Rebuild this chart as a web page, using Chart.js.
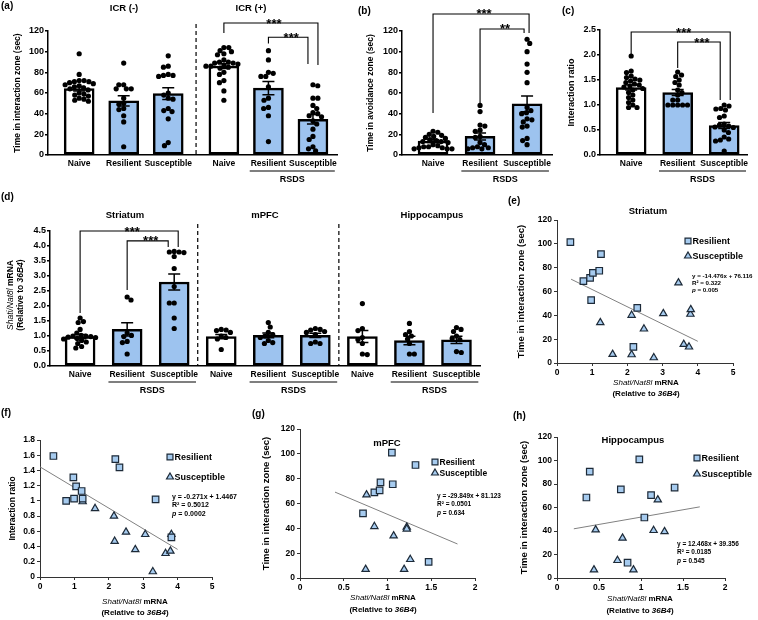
<!DOCTYPE html>
<html>
<head>
<meta charset="utf-8">
<title>Shati/Nat8l and RSDS</title>
<script src="https://cdn.jsdelivr.net/npm/chart.js@4.4.1/dist/chart.umd.min.js"></script>
<style>
  html, body { margin: 0; padding: 0; background: #fff; }
  #fig { position: relative; width: 758px; height: 620px; overflow: hidden; background: #fff; }
  #fig canvas { position: absolute; }
  .tag { position: absolute; font: bold 10px 'Liberation Sans', Arial, sans-serif; line-height: 10px; color: #000; }
</style>
</head>
<body>
<div id="fig">
  <canvas id="pa" width="345" height="195" style="left:0px;top:0px"></canvas>
  <canvas id="pb" width="215" height="195" style="left:350px;top:0px"></canvas>
  <canvas id="pc" width="203" height="195" style="left:555px;top:0px"></canvas>
  <canvas id="pd" width="490" height="200" style="left:0px;top:200px"></canvas>
  <canvas id="pe" width="268" height="210" style="left:490px;top:195px"></canvas>
  <canvas id="pf" width="250" height="220" style="left:0px;top:400px"></canvas>
  <canvas id="pg" width="262" height="220" style="left:250px;top:400px"></canvas>
  <canvas id="ph" width="258" height="220" style="left:500px;top:400px"></canvas>
  <div class="tag" style="left:1px;top:1px">(a)</div>
  <div class="tag" style="left:358px;top:6px">(b)</div>
  <div class="tag" style="left:562px;top:6px">(c)</div>
  <div class="tag" style="left:1px;top:192px">(d)</div>
  <div class="tag" style="left:508px;top:196px">(e)</div>
  <div class="tag" style="left:1px;top:408px">(f)</div>
  <div class="tag" style="left:252px;top:409px">(g)</div>
  <div class="tag" style="left:513px;top:411px">(h)</div>
</div>
<script>
const FONT = "'Liberation Sans', Arial, sans-serif";
const BAR_BLUE = '#9dc3ef';
const MARK_BLUE = '#a6cbef';
const MARK_EDGE = '#1d2a38';
Chart.defaults.font.family = FONT;

// ---- data ----
const groupNames = ['Naive', 'Resilient', 'Susceptible'];

// (a) time in interaction zone, ICR(-) then ICR(+)
const aLabels = groupNames.concat(groupNames);
const aMeans = [64.2, 52.4, 59.4, 86.0, 64.7, 34.6];
const aSem = [2.2, 5.0, 5.6, 2.3, 6.4, 4.6];
const aNaiveNeg = [98, 78, 72, 72, 71, 71, 70, 69, 68, 67, 66, 65, 64, 63, 60, 59, 58, 57, 55, 54, 53, 52];
const aResNeg = [89, 68, 68, 64, 64, 64, 55, 50, 49, 45, 44, 38, 32, 8];
const aSusNeg = [96, 86, 85, 78, 77, 77, 76, 60, 58, 55, 54, 45, 43, 42, 35, 12, 9];
const aNaivePos = [104, 104, 101, 100, 98, 97, 92, 90, 90, 89, 89, 88, 87, 86, 86, 85, 84, 80, 78, 72, 70, 62, 53];
const aResPos = [101, 92, 80, 79, 76, 76, 66, 55, 53, 46, 45, 38, 13];
const aSusPos = [68, 67, 55, 55, 48, 45, 41, 40, 38, 37, 33, 30, 25, 18, 15, 8, 6, 4];

// (b) time in avoidance zone
const bMeans = [13.5, 18.0, 49.5];
const bSem = [1.3, 3.4, 7.6];
const bNaive = [23, 22, 20, 19, 18, 17, 16, 15, 14, 13, 13, 12, 10, 9, 8, 8, 7, 7, 6, 6, 6];
const bRes = [48, 42, 29, 28, 24, 23, 18, 17, 12, 10, 8, 7, 7, 6, 6];
const bSus = [112, 108, 100, 88, 80, 70, 46, 43, 41, 40, 35, 34, 32, 28, 27, 16, 14, 10];

// (c) interaction ratio
const cMeans = [1.35, 1.25, 0.59];
const cSem = [0.05, 0.06, 0.06];
const cNaive = [1.98, 1.68, 1.65, 1.58, 1.55, 1.52, 1.5, 1.48, 1.45, 1.42, 1.4, 1.38, 1.36, 1.33, 1.3, 1.25, 1.2, 1.15, 1.1, 1.05, 1.0, 0.95, 0.95];
const cRes = [1.66, 1.6, 1.57, 1.5, 1.45, 1.4, 1.3, 1.25, 1.2, 1.1, 1.1, 1.0, 1.0, 1.0, 1.0, 1.0];
const cSus = [1.0, 0.98, 0.93, 0.92, 0.9, 0.78, 0.75, 0.62, 0.6, 0.58, 0.56, 0.55, 0.5, 0.45, 0.36, 0.32, 0.3, 0.28, 0.08];

// (d) Shati/Nat8l mRNA in striatum, mPFC, hippocampus
const dLabels = groupNames.concat(groupNames, groupNames);
const dMeans = [0.98, 1.22, 2.80, 0.98, 1.02, 1.02, 0.98, 0.85, 0.87];
const dSem = [0.07, 0.22, 0.27, 0.07, 0.08, 0.07, 0.20, 0.14, 0.12];
const dStrNaive = [1.6, 1.48, 1.45, 1.22, 1.1, 1.02, 1.0, 1.0, 0.98, 0.96, 0.95, 0.92, 0.9, 0.85, 0.8, 0.75, 0.65, 0.6];
const dStrRes = [2.3, 2.2, 1.1, 1.02, 0.98, 0.82, 0.78, 0.4];
const dStrSus = [3.82, 3.8, 3.8, 3.78, 3.65, 3.25, 2.65, 2.1, 2.1, 1.6, 1.25];
const dPfcNaive = [1.22, 1.2, 1.18, 1.12, 1.0, 0.95, 0.9, 0.55];
const dPfcRes = [1.45, 1.3, 1.12, 1.05, 1.0, 0.95, 0.85, 0.78, 0.75];
const dPfcSus = [1.25, 1.22, 1.2, 1.15, 1.12, 1.05, 0.8, 0.75, 0.75];
const dHipNaive = [2.08, 1.25, 1.18, 0.95, 0.88, 0.75, 0.4, 0.38];
const dHipRes = [1.42, 1.15, 1.05, 1.0, 0.9, 0.75, 0.4, 0.4];
const dHipSus = [1.28, 1.22, 1.15, 1.0, 0.92, 0.88, 0.48, 0.45];

// (e)-(h) correlations: [mRNA, behaviour]
const eRes = [[0.38, 101.5], [0.75, 68.7], [0.94, 71.5], [1.02, 75.7], [1.2, 77.4], [1.25, 91.4], [0.97, 52.7], [2.28, 46.3], [2.17, 13.5]];
const eSus = [[1.23, 33.9], [1.58, 7.3], [2.12, 40.1], [2.12, 7.0], [2.47, 28.6], [2.75, 4.5], [3.02, 41.5], [3.45, 67.3], [3.6, 15.7], [3.75, 13.5], [3.79, 41.0], [3.8, 44.8]];
const eFit = [-14.476, 76.116];
const eEq = ['y = -14.476x + 76.116', 'R\u00b2 = 0.322', '0.005'];

const fRes = [[0.39, 1.59], [0.76, 1.0], [0.97, 1.31], [0.99, 1.03], [1.05, 1.19], [1.21, 1.13], [1.24, 1.03], [2.19, 1.55], [2.31, 1.44], [3.36, 1.02], [3.82, 0.52]];
const fSus = [[1.24, 0.99], [1.6, 0.9], [2.15, 0.8], [2.17, 0.47], [2.5, 0.59], [2.77, 0.36], [3.06, 0.56], [3.28, 0.07], [3.65, 0.31], [3.79, 0.34], [3.82, 0.56]];
const fFit = [-0.271, 1.4467];
const fEq = ['y = -0.271x + 1.4467', 'R\u00b2 = 0.5012', '0.0002'];

const gRes = [[0.72, 52], [0.85, 69], [0.91, 70.5], [0.92, 77], [1.05, 101], [1.06, 75.5], [1.32, 91], [1.47, 13]];
const gSus = [[0.76, 67], [0.75, 7], [0.85, 41.5], [1.07, 34], [1.22, 41], [1.22, 39.5], [1.19, 7], [1.26, 15]];
const gFit = [-29.849, 81.123];
const gEq = ['y = -29.849x + 81.123', 'R\u00b2 = 0.0501', '0.634'];

const hRes = [[0.35, 68.5], [0.39, 90.5], [0.76, 75.5], [0.84, 13], [0.98, 101], [1.04, 51.5], [1.12, 70.5], [1.4, 77]];
const hSus = [[0.44, 7], [0.46, 41], [0.72, 15], [0.78, 34], [0.91, 7], [1.15, 40.5], [1.2, 66.5], [1.28, 39.5]];
const hFit = [12.468, 39.356];
const hEq = ['y = 12.468x + 39.356', 'R\u00b2 = 0.0185', '0.545'];

// ---- helpers ----
function fontStr(size, bold, italic) {
  return (italic ? 'italic ' : '') + (bold ? 'bold ' : '') + size + 'px ' + FONT;
}

// parts: [text, italic, bold]
function richText(ctx, parts, x, y, size, align) {
  const widths = parts.map(p => { ctx.font = fontStr(size, p[2] !== false, p[1]); return ctx.measureText(p[0]).width; });
  const total = widths.reduce((s, w) => s + w, 0);
  let cx = align === 'left' ? x : x - total / 2;
  ctx.textAlign = 'left';
  ctx.textBaseline = 'middle';
  ctx.fillStyle = '#000';
  parts.forEach((p, i) => { ctx.font = fontStr(size, p[2] !== false, p[1]); ctx.fillText(p[0], cx, y); cx += widths[i]; });
}

const geneLine = [['Shati/Nat8l', true, false], [' mRNA', false]];
const refLine = [['(Relative to ', false], ['36B4', true], [')', false]];

// simple beeswarm: each dot goes as close to the centre as it can
function swarm(ys, cx, r) {
  const d = 2 * r - 0.3;
  const placed = [];
  let flip = 1;
  ys.slice().sort((a, b) => a - b).forEach(y => {
    const near = placed.filter(p => Math.abs(p.y - y) < d);
    const cands = [cx];
    near.forEach(p => { const dx = Math.sqrt(d * d - (p.y - y) * (p.y - y)); cands.push(p.x - dx, p.x + dx); });
    cands.sort((a, b) => (Math.abs(a - cx) - Math.abs(b - cx)) || flip * (a - b));
    flip = -flip;
    const x = cands.find(c => near.every(p => (p.x - c) * (p.x - c) + (p.y - y) * (p.y - y) >= d * d - 0.01));
    placed.push({ x: x, y: y });
  });
  return placed;
}

function drawMarker(ctx, style, x, y, r) {
  ctx.beginPath();
  if (style === 'rect') {
    const s = r * Math.SQRT1_2;
    ctx.rect(x - s, y - s, 2 * s, 2 * s);
  } else {
    for (let k = 0; k < 3; k++) {
      const a = k * 2 * Math.PI / 3;
      const px = x + Math.sin(a) * r, py = y - Math.cos(a) * r;
      if (k) ctx.lineTo(px, py); else ctx.moveTo(px, py);
    }
    ctx.closePath();
  }
  ctx.fillStyle = MARK_BLUE;
  ctx.fill();
  ctx.lineWidth = 1.2;
  ctx.strokeStyle = MARK_EDGE;
  ctx.stroke();
}

// ---- bar + dot panels ----
function barPanel(o) {
  const [L, T, W, H] = o.box;
  const [x1, y1, x2, y2] = o.area;
  const pos = [];
  let k = 0;
  o.groups.forEach((n, gi) => { for (let i = 0; i < n; i++) pos.push(k++ + gi * o.gap); });
  const fills = o.labels.map(l => l === 'Naive' ? '#ffffff' : BAR_BLUE);
  const tickFont = { family: FONT, size: 8.5, weight: 'bold' };

  const extras = {
    id: 'extras',
    afterDatasetsDraw(chart) {
      const { ctx, chartArea: ca, scales: { x, y } } = chart;
      ctx.save();
      // dots
      ctx.fillStyle = '#000';
      o.points.forEach((vals, i) => {
        const cx = x.getPixelForValue(pos[i]);
        swarm(vals.map(v => y.getPixelForValue(v)), cx, 2.6).forEach(p => {
          ctx.beginPath(); ctx.arc(p.x, p.y, 2.6, 0, Math.PI * 2); ctx.fill();
        });
      });
      // mean +/- SEM
      ctx.strokeStyle = '#000';
      ctx.lineWidth = 1.5;
      o.means.forEach((m, i) => {
        const cx = x.getPixelForValue(pos[i]);
        const top = y.getPixelForValue(m + o.sem[i]), bot = y.getPixelForValue(m - o.sem[i]);
        ctx.beginPath();
        ctx.moveTo(cx, top); ctx.lineTo(cx, bot);
        ctx.moveTo(cx - 6, top); ctx.lineTo(cx + 6, top);
        ctx.moveTo(cx - 6, bot); ctx.lineTo(cx + 6, bot);
        ctx.stroke();
      });
      // dashed separators between groups
      ctx.lineWidth = 1.2;
      ctx.setLineDash([4, 3]);
      let start = 0;
      o.groups.slice(0, -1).forEach(n => {
        start += n;
        const sx = x.getPixelForValue((pos[start - 1] + pos[start]) / 2);
        ctx.beginPath(); ctx.moveTo(sx, ca.top - 7); ctx.lineTo(sx, ca.bottom); ctx.stroke();
      });
      ctx.setLineDash([]);
      // significance brackets
      ctx.lineWidth = 1.1;
      o.brackets.forEach(b => {
        const xl = x.getPixelForValue(pos[b.i]);
        const xr = x.getPixelForValue(pos[b.j]) + b.dj;
        const yy = y.getPixelForValue(b.y);
        ctx.beginPath();
        ctx.moveTo(xl, y.getPixelForValue(b.yl));
        ctx.lineTo(xl, yy); ctx.lineTo(xr, yy);
        ctx.lineTo(xr, y.getPixelForValue(b.yr));
        ctx.stroke();
        ctx.font = fontStr(13, true);
        ctx.textAlign = 'center';
        ctx.textBaseline = 'alphabetic';
        ctx.fillStyle = '#000';
        ctx.fillText(b.t, (xl + xr) / 2 + 3, yy + 4.5);
      });
      // RSDS underline and label
      ctx.font = fontStr(8.5, true);
      const wr = ctx.measureText('Resilient').width, ws = ctx.measureText('Susceptible').width;
      let g0 = 0;
      const starts = o.groups.map(n => { const s = g0; g0 += n; return s; });
      o.rsds.forEach(gi => {
        const a = x.getPixelForValue(pos[starts[gi] + 1]) - wr / 2 - 1;
        const b = x.getPixelForValue(pos[starts[gi] + 2]) + ws / 2 - 2;
        ctx.lineWidth = 1.2;
        ctx.beginPath(); ctx.moveTo(a, ca.bottom + 16); ctx.lineTo(b, ca.bottom + 16); ctx.stroke();
        ctx.font = fontStr(9, true);
        ctx.textAlign = 'center';
        ctx.textBaseline = 'middle';
        ctx.fillText('RSDS', (a + b) / 2, ca.bottom + 25);
      });
      // group titles
      o.titles.forEach(t => {
        ctx.font = fontStr(9.5, true);
        ctx.textAlign = 'center';
        ctx.textBaseline = 'middle';
        ctx.fillText(t.t, t.x - L, t.y - T);
      });
      // two-line rotated title
      if (o.richTitle) {
        const r = o.richTitle;
        [geneLine, refLine].forEach((parts, li) => {
          ctx.save();
          ctx.translate(r.x[li] - L, r.y - T);
          ctx.rotate(-Math.PI / 2);
          richText(ctx, parts, 0, 0, 8.5);
          ctx.restore();
        });
      }
      ctx.restore();
    }
  };

  return new Chart(document.getElementById(o.id), {
    type: 'bar',
    data: {
      datasets: [{
        data: pos.map((p, i) => ({ x: p, y: o.means[i] })),
        backgroundColor: fills,
        borderColor: '#000',
        borderWidth: 2.5,
        borderSkipped: false,
        barThickness: 30
      }]
    },
    options: {
      responsive: false,
      animation: false,
      events: [],
      layout: { padding: { top: y1 - T, right: L + W - x2, left: 0, bottom: 0 } },
      plugins: { legend: { display: false }, tooltip: { enabled: false } },
      scales: {
        x: {
          type: 'linear',
          offset: false,
          min: o.xMin,
          max: pos[pos.length - 1] + o.xPad,
          afterBuildTicks: s => { s.ticks = pos.map(v => ({ value: v })); },
          afterFit: s => { s.height = T + H - y2; },
          grid: { display: false, drawTicks: false },
          border: { display: true, color: '#000', width: 1.5 },
          ticks: { autoSkip: false, maxRotation: 0, padding: 4, color: '#000', font: tickFont,
                   callback: (v, i) => o.labels[i] }
        },
        y: {
          min: 0,
          max: o.yMax,
          afterFit: s => { s.width = x1 - L; },
          ticks: { stepSize: o.yStep, padding: 1, color: '#000', font: { family: FONT, size: 9, weight: 'bold' },
                   callback: v => v.toFixed(o.dec) },
          grid: { drawOnChartArea: false, drawTicks: true, tickLength: 3, color: '#000', lineWidth: 1.5 },
          border: { color: '#000', width: 1.5 },
          title: { display: !!o.yTitle, text: o.yTitle || '', color: '#000',
                   font: { family: FONT, size: o.yTitleSize || 8.5, weight: 'bold' },
                   padding: { top: o.yTitlePad || 0, bottom: 0 } }
        }
      }
    },
    plugins: [extras]
  });
}

barPanel({
  id: 'pa', box: [0, 0, 345, 195], area: [48, 31, 337, 155],
  groups: [3, 3], gap: 0.25, xMin: -0.7, xPad: 0.54,
  labels: aLabels, means: aMeans, sem: aSem,
  points: [aNaiveNeg, aResNeg, aSusNeg, aNaivePos, aResPos, aSusPos],
  yMax: 120, yStep: 20, dec: 0,
  yTitle: 'Time in interaction zone (sec)', yTitleSize: 8.5, yTitlePad: 13,
  brackets: [
    { i: 3, j: 5, y: 127.7, yl: 118, yr: 87, dj: 5, t: '***' },
    { i: 4, j: 5, y: 114, yl: 108, yr: 88, dj: -5, t: '***' }
  ],
  rsds: [1],
  titles: [{ t: 'ICR (-)', x: 124, y: 8 }, { t: 'ICR (+)', x: 251, y: 8 }]
});

barPanel({
  id: 'pb', box: [350, 0, 215, 195], area: [402, 31, 552, 155],
  groups: [3], gap: 0, xMin: -0.66, xPad: 0.53,
  labels: groupNames, means: bMeans, sem: bSem,
  points: [bNaive, bRes, bSus],
  yMax: 120, yStep: 20, dec: 0,
  yTitle: 'Time in avoidance zone (sec)', yTitleSize: 8.5, yTitlePad: 16,
  brackets: [
    { i: 0, j: 2, y: 136.5, yl: 40.6, yr: 118, dj: 2, t: '***' },
    { i: 1, j: 2, y: 122, yl: 50.3, yr: 118, dj: -3, t: '**' }
  ],
  rsds: [0],
  titles: []
});

barPanel({
  id: 'pc', box: [555, 0, 203, 195], area: [600, 30, 747, 155],
  groups: [3], gap: 0, xMin: -0.67, xPad: 0.49,
  labels: groupNames, means: cMeans, sem: cSem,
  points: [cNaive, cRes, cSus],
  yMax: 2.5, yStep: 0.5, dec: 1,
  yTitle: 'Interaction ratio', yTitleSize: 9, yTitlePad: 11.5,
  brackets: [
    { i: 0, j: 2, y: 2.46, yl: 2.0, yr: 1.1, dj: 6, t: '***' },
    { i: 1, j: 2, y: 2.26, yl: 1.74, yr: 1.1, dj: -4, t: '***' }
  ],
  rsds: [0],
  titles: []
});

barPanel({
  id: 'pd', box: [0, 200, 490, 200], area: [50, 231, 480, 366],
  groups: [3, 3, 3], gap: 0, xMin: -0.64, xPad: 0.5,
  labels: dLabels, means: dMeans, sem: dSem,
  points: [dStrNaive, dStrRes, dStrSus, dPfcNaive, dPfcRes, dPfcSus, dHipNaive, dHipRes, dHipSus],
  yMax: 4.5, yStep: 0.5, dec: 1,
  richTitle: { x: [11, 21], y: 295 },
  brackets: [
    { i: 0, j: 2, y: 4.5, yl: 1.77, yr: 3.97, dj: 4, t: '***' },
    { i: 1, j: 2, y: 4.17, yl: 2.53, yr: 3.97, dj: -6, t: '***' }
  ],
  rsds: [0, 1, 2],
  titles: [{ t: 'Striatum', x: 125, y: 215 }, { t: 'mPFC', x: 265, y: 215 }, { t: 'Hippocampus', x: 432, y: 215 }]
});

// ---- correlation panels ----
function scatterPanel(o) {
  const [L, T, W, H] = o.box;
  const [x1, y1, x2, y2] = o.area;
  const tickFont = { family: FONT, size: 8.5, weight: 'bold' };
  const fitLine = o.fitRange.map(v => ({ x: v, y: o.fit[0] * v + o.fit[1] }));
  const fmt = v => String(+v.toFixed(2));

  const extras = {
    id: 'extras',
    afterDraw(chart) {
      const ctx = chart.ctx;
      ctx.save();
      if (o.title) {
        ctx.font = fontStr(9.5, true);
        ctx.fillStyle = '#000';
        ctx.textAlign = 'center';
        ctx.textBaseline = 'middle';
        ctx.fillText(o.title.t, o.title.x - L, o.title.y - T);
      }
      // legend
      [['rect', 'Resilient', o.legend.y1], ['triangle', 'Susceptible', o.legend.y2]].forEach(([st, txt, ly]) => {
        drawMarker(ctx, st, o.legend.x - L, ly - T, st === 'rect' ? 4.2 : 4.0);
        ctx.font = fontStr(o.legend.size || 9, true);
        ctx.fillStyle = '#000';
        ctx.textAlign = 'left';
        ctx.textBaseline = 'middle';
        ctx.fillText(txt, o.legend.x - L + 4.5, ly - T + 0.5);
      });
      // regression equation
      const ex = o.eqPos.x - L, ey = o.eqPos.y - T, dy = o.eqPos.dy;
      richText(ctx, [[o.eq[0], false]], ex, ey, o.eqSize, 'left');
      richText(ctx, [[o.eq[1], false]], ex, ey + dy, o.eqSize, 'left');
      richText(ctx, [['p', true], [' = ' + o.eq[2], false]], ex, ey + 2 * dy, o.eqSize, 'left');
      // x title
      richText(ctx, geneLine, o.xTitle.x - L, o.xTitle.y - T, 8);
      richText(ctx, refLine, o.xTitle.x - L, o.xTitle.y - T + o.xTitle.dy, 8);
      ctx.restore();
    }
  };

  return new Chart(document.getElementById(o.id), {
    type: 'scatter',
    data: {
      datasets: [
        { data: o.res.map(p => ({ x: p[0], y: p[1] })), pointStyle: 'rect', pointRadius: 4.6,
          backgroundColor: MARK_BLUE, borderColor: MARK_EDGE, borderWidth: 1.2 },
        { data: o.sus.map(p => ({ x: p[0], y: p[1] })), pointStyle: 'triangle', pointRadius: 4.2,
          backgroundColor: MARK_BLUE, borderColor: MARK_EDGE, borderWidth: 1.2 },
        { data: fitLine, showLine: true, borderColor: '#808080', borderWidth: 1, pointRadius: 0 }
      ]
    },
    options: {
      responsive: false,
      animation: false,
      events: [],
      layout: { padding: { top: y1 - T, right: L + W - x2, left: 0, bottom: 0 } },
      plugins: { legend: { display: false }, tooltip: { enabled: false } },
      scales: {
        x: {
          min: 0, max: o.xMax,
          afterFit: s => { s.height = T + H - y2; },
          ticks: { stepSize: o.xStep, autoSkip: false, maxRotation: 0, padding: 2, color: '#000', font: tickFont, callback: fmt },
          grid: { drawOnChartArea: false, drawTicks: true, tickLength: 3, color: '#333' },
          border: { color: '#333', width: 1 }
        },
        y: {
          min: 0, max: o.yMax,
          afterFit: s => { s.width = x1 - L; },
          ticks: { stepSize: o.yStep, autoSkip: false, padding: 2, color: '#000', font: tickFont, callback: fmt },
          grid: { drawOnChartArea: false, drawTicks: true, tickLength: 3, color: '#333' },
          border: { color: '#333', width: 1 },
          title: { display: true, text: o.yTitle, color: '#000',
                   font: { family: FONT, size: o.yTitleSize, weight: 'bold' },
                   padding: { top: o.yTitlePad, bottom: 0 } }
        }
      }
    },
    plugins: [extras]
  });
}

scatterPanel({
  id: 'pe', box: [490, 195, 268, 210], area: [557, 220, 733, 363],
  res: eRes, sus: eSus, fit: eFit, fitRange: [0.4, 4], eq: eEq,
  xMax: 5, xStep: 1, yMax: 120, yStep: 20,
  yTitle: 'Time in interaction zone (sec)', yTitleSize: 9.5, yTitlePad: 26,
  title: { t: 'Striatum', x: 648, y: 211 },
  legend: { x: 688, y1: 241, y2: 256 },
  eqPos: { x: 692, y: 276, dy: 7.3 }, eqSize: 6.2,
  xTitle: { x: 646, y: 383, dy: 11 }
});

scatterPanel({
  id: 'pf', box: [0, 400, 250, 220], area: [40, 440, 212, 577],
  res: fRes, sus: fSus, fit: fFit, fitRange: [0, 4], eq: fEq,
  xMax: 5, xStep: 1, yMax: 1.8, yStep: 0.2,
  yTitle: 'Interaction ratio', yTitleSize: 8.5, yTitlePad: 8,
  title: null,
  legend: { x: 170, y1: 457, y2: 477 },
  eqPos: { x: 172, y: 497, dy: 8.3 }, eqSize: 7,
  xTitle: { x: 135, y: 602, dy: 10.5 }
});

scatterPanel({
  id: 'pg', box: [250, 400, 262, 220], area: [300, 429, 475, 578],
  res: gRes, sus: gSus, fit: gFit, fitRange: [0.4, 1.8], eq: gEq,
  xMax: 2, xStep: 0.5, yMax: 120, yStep: 20,
  yTitle: 'Time in interaction zone (sec)', yTitleSize: 9.5, yTitlePad: 11,
  title: { t: 'mPFC', x: 387, y: 443 },
  legend: { x: 435, y1: 462, y2: 473, size: 8.5 },
  eqPos: { x: 437, y: 496, dy: 8.5 }, eqSize: 6.5,
  xTitle: { x: 383, y: 598, dy: 11.5 }
});

scatterPanel({
  id: 'ph', box: [500, 400, 258, 220], area: [557, 437, 725, 578],
  res: hRes, sus: hSus, fit: hFit, fitRange: [0.2, 1.7], eq: hEq,
  xMax: 2, xStep: 0.5, yMax: 120, yStep: 20,
  yTitle: 'Time in interaction zone (sec)', yTitleSize: 9.5, yTitlePad: 19,
  title: { t: 'Hippocampus', x: 633, y: 440 },
  legend: { x: 697, y1: 458, y2: 474 },
  eqPos: { x: 677, y: 544, dy: 8.7 }, eqSize: 6.5,
  xTitle: { x: 640, y: 599, dy: 11.5 }
});
</script>
</body>
</html>
